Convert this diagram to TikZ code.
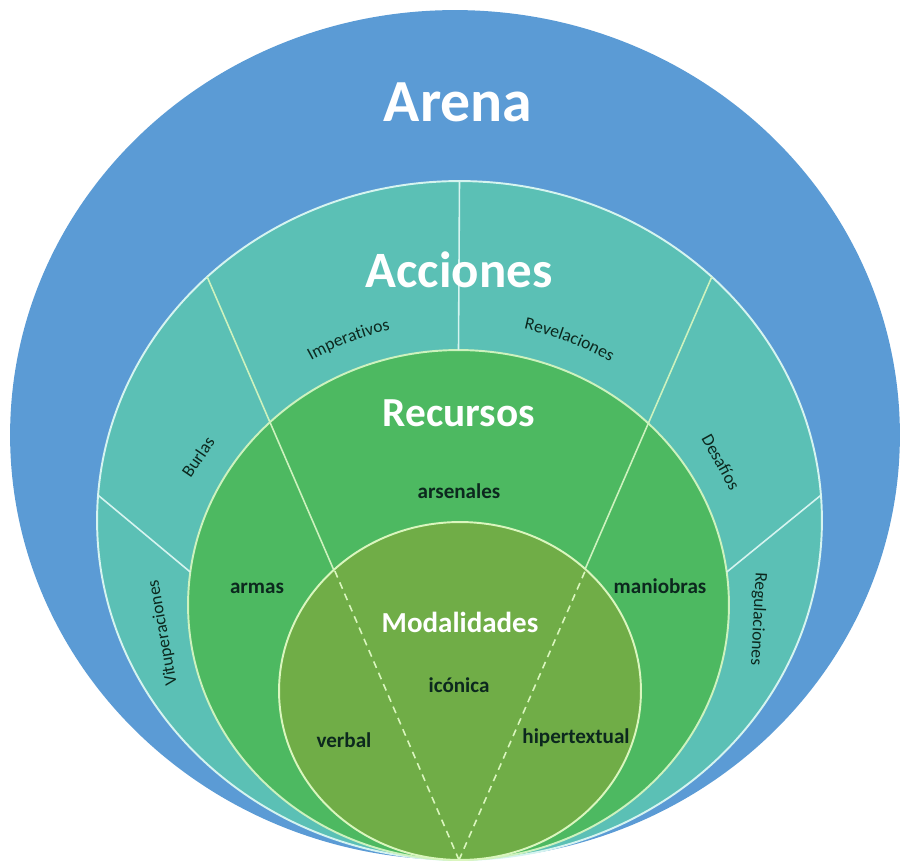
\documentclass[tikz,border=0pt]{standalone}
\usepackage{fontspec}
\setmainfont{Carlito}
\usetikzlibrary{shapes.geometric,decorations.text}

\definecolor{arenablue}{RGB}{91,155,213}
\definecolor{accteal}{RGB}{91,192,181}
\definecolor{recgreen}{RGB}{77,185,97}
\definecolor{modgreen}{RGB}{112,173,71}
\definecolor{accline}{RGB}{214,244,240}
\definecolor{recline}{RGB}{205,242,190}
\definecolor{modline}{RGB}{218,246,190}
\definecolor{labeltext}{RGB}{12,40,30}

\begin{document}
\begin{tikzpicture}[x=0.02cm, y=0.02cm,
    ring/.style={ellipse, inner sep=0pt, outer sep=0pt, line width=1.1pt},
    ringtitle/.style={text=white, inner sep=0pt},
    bandlabel/.style={text=labeltext, inner sep=0pt, font=\fontsize{10}{12}\selectfont},
    zonelabel/.style={text=labeltext, inner sep=0pt, font=\bfseries\fontsize{12}{14}\selectfont},
    spoke/.style={draw=recline, line width=0.9pt}]
    \useasboundingbox (0,0) rectangle (903,863);

    % rings, all touching at the bottom
    \node (arena) [ring, fill=arenablue, minimum width=17.8cm, minimum height=17cm] at (455,428) {};
    \node (acciones) [ring, fill=accteal, draw=accline, minimum width=14.5cm, minimum height=13.58cm] at (459.5,342.5) {};
    \node (recursos) [ring, fill=recgreen, draw=recline, minimum width=10.82cm, minimum height=10.2cm] at (458.5,258) {};
    \coordinate (bottom) at (459,3);

    % dividing lines
    \draw [spoke, draw=accline] (acciones.north) -- (recursos.north);
    \draw [spoke, draw=accline] (acciones.176.1) -- (recursos.173);
    \draw [spoke, draw=accline] (acciones.4.4) -- (recursos.7.4);
    \draw [spoke] (bottom) -- (acciones.136.7);
    \draw [spoke] (bottom) -- (acciones.44.5);

    \node (modalidades) [ring, fill=modgreen, draw=modline, minimum width=7.24cm, minimum height=6.76cm] at (460,172) {};
    \draw [spoke, draw=modline, dash pattern=on 4pt off 3pt] (bottom) -- (modalidades.136.6);
    \draw [spoke, draw=modline, dash pattern=on 4pt off 3pt] (bottom) -- (modalidades.44.8);

    % titles
    \node (arenat) [ringtitle, font=\bfseries\fontsize{34}{40}\selectfont] at (458,761) {Arena};
    \node (accionest) [ringtitle, font=\bfseries\fontsize{29}{34}\selectfont] at (459,593) {Acciones};
    \node (recursost) [ringtitle, font=\bfseries\fontsize{23.5}{28}\selectfont] at (459,450) {Recursos};
    \node (modalidadest) [ringtitle, font=\bfseries\fontsize{16.5}{20}\selectfont] at (460,241) {Modalidades};

    % acciones
    \path [decorate, decoration={text along path, text align=center, text color=labeltext,
        text={|\fontsize{10}{12}\selectfont|Imperativos}}]
        (459,236) ++(123:305) arc [start angle=123, end angle=99, radius=305];
    \path [decorate, decoration={text along path, text align=center, text color=labeltext,
        text={|\fontsize{10}{12}\selectfont|Revelaciones}}]
        (459,236) ++(81:305) arc [start angle=81, end angle=57, radius=305];
    \node (burlas) [bandlabel, rotate=56] at (198,406) {Burlas};
    \node (desafios) [bandlabel, rotate=-61] at (721,401) {Desafíos};
    \node (vituperaciones) [bandlabel, rotate=100] at (163,230) {Vituperaciones};
    \node (regulaciones) [bandlabel, rotate=-93] at (758,244) {Regulaciones};

    % recursos
    \node (arsenales) [zonelabel] at (459,372) {arsenales};
    \node (armas) [zonelabel] at (257,275) {armas};
    \node (maniobras) [zonelabel] at (660,277) {maniobras};

    % modalidades
    \node (iconica) [zonelabel] at (459,178) {icónica};
    \node (verbal) [zonelabel] at (344,123) {verbal};
    \node (hipertextual) [zonelabel] at (576,125) {hipertextual};
\end{tikzpicture}
\end{document}
